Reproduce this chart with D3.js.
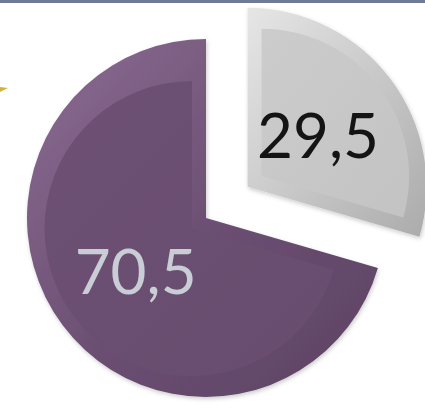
<!DOCTYPE html>
<html>
<head>
<meta charset="utf-8">
<script src="https://cdn.jsdelivr.net/npm/d3@7"></script>
<style>
  body { margin: 0; background: #fff; }
  svg { display: block; }
</style>
</head>
<body>
<svg width="425" height="412"></svg>
<script>
// values (percent)
const labels = ['29,5', '70,5'];
const values = [29.5, 70.5];
const faceColors = ['#c6c6c6', '#6a4e71'];
const lightColors = ['#e6e6e6', '#8c6c93'];
const darkColors = ['#ababab', '#5d4364'];
const textColors = ['#141414', '#c9cdd6'];
const explode = [52, 0];

const svg = d3.select('svg');
const width = 425, height = 412;
const cx = 206, cy = 218, radius = 179, bevel = 14;

// top border strip
svg.append('rect')
  .attr('x', 0).attr('y', 0)
  .attr('width', width).attr('height', 3)
  .attr('fill', '#6e7a96');

// little yellow mark on the left edge
svg.append('path')
  .attr('d', 'M0,87 L8,88 L0,92 Z')
  .attr('fill', '#d2b33a');

const defs = svg.append('defs');
values.forEach((v, i) => {
  const grad = defs.append('linearGradient')
    .attr('id', 'bev' + i)
    .attr('x1', '0%').attr('y1', '0%')
    .attr('x2', '100%').attr('y2', '100%');
  grad.append('stop').attr('offset', '0%').attr('stop-color', lightColors[i]);
  grad.append('stop').attr('offset', '55%').attr('stop-color', faceColors[i]);
  grad.append('stop').attr('offset', '100%').attr('stop-color', darkColors[i]);

  const face = defs.append('linearGradient')
    .attr('id', 'face' + i)
    .attr('x1', '0%').attr('y1', '0%')
    .attr('x2', '100%').attr('y2', '100%');
  face.append('stop').attr('offset', '0%').attr('stop-color', d3.color(faceColors[i]).brighter(0.08));
  face.append('stop').attr('offset', '100%').attr('stop-color', d3.color(faceColors[i]).darker(0.05));
});

const shadow = defs.append('filter').attr('id', 'shadow')
  .attr('x', '-20%').attr('y', '-20%').attr('width', '140%').attr('height', '140%');
shadow.append('feDropShadow')
  .attr('dx', 1).attr('dy', 2).attr('stdDeviation', 2)
  .attr('flood-color', '#000').attr('flood-opacity', 0.2);

const pie = d3.pie().sort(null).startAngle(0).endAngle(2 * Math.PI);
const arcs = pie(values);

const outerArc = d3.arc().innerRadius(0).outerRadius(radius);
const labelArc = d3.arc().innerRadius(88).outerRadius(88);

const slices = svg.selectAll('g.slice')
  .data(arcs)
  .enter()
  .append('g')
    .attr('class', 'slice')
    .attr('transform', (d, i) => {
      const mid = (d.startAngle + d.endAngle) / 2;
      const ox = Math.sin(mid) * explode[i];
      const oy = -Math.cos(mid) * explode[i];
      return `translate(${cx + ox},${cy + oy})`;
    });

// outer shape with bevel shading
slices.append('path')
  .attr('d', outerArc)
  .attr('fill', (d, i) => `url(#bev${i})`)
  .attr('filter', 'url(#shadow)');

// inner face, inset by the bevel width
slices.append('path')
  .attr('d', d => {
    const half = (d.endAngle - d.startAngle) / 2;
    const shift = bevel / Math.sin(half);
    return d3.arc().innerRadius(0).outerRadius(radius - bevel - shift)(d);
  })
  .attr('transform', d => {
    const half = (d.endAngle - d.startAngle) / 2;
    const mid = (d.startAngle + d.endAngle) / 2;
    const shift = bevel / Math.sin(half);
    return `translate(${Math.sin(mid) * shift},${-Math.cos(mid) * shift})`;
  })
  .attr('fill', (d, i) => `url(#face${i})`);

// value labels
slices.append('text')
  .attr('transform', d => `translate(${labelArc.centroid(d)})`)
  .attr('text-anchor', 'middle')
  .attr('dy', '0.38em')
  .style('font-family', "'Lato', 'Open Sans', sans-serif")
  .style('font-weight', 400)
  .style('font-size', '62px')
  .attr('fill', (d, i) => textColors[i])
  .text((d, i) => labels[i]);
</script>
</body>
</html>
